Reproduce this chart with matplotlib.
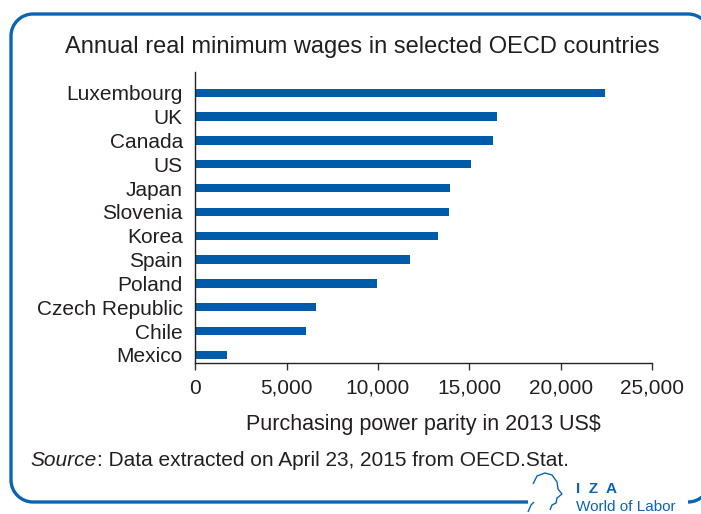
import matplotlib
matplotlib.use("Agg")
import matplotlib.pyplot as plt
from matplotlib.path import Path
from matplotlib.patches import PathPatch

countries = ["Luxembourg", "UK", "Canada", "US", "Japan", "Slovenia", "Korea",
             "Spain", "Poland", "Czech Republic", "Chile", "Mexico"]
wages = [22400, 16530, 16280, 15070, 13920, 13900, 13300, 11730, 9970, 6610, 6050, 1750]
xticks = [0, 5000, 10000, 15000, 20000, 25000]
xticklabels = ["0", "5,000", "10,000", "15,000", "20,000", "25,000"]

FONT = ["Liberation Sans", "DejaVu Sans"]
plt.rcParams['font.family'] = FONT
TXT = "#231f20"
BLUE = "#005ca9"
BORDER = "#0a64b4"

W, H = 701, 514
fig = plt.figure(figsize=(W / 100, H / 100), dpi=100)


def P(x, y):
    return (x / W, 1 - y / H)


# Rounded border drawn as paths in pixel coordinates (right side runs off canvas)
L, T, R, B, r = 11, 14, 710, 502, 22
k = 0.5523 * r
C = Path.CURVE4
verts = [P(528, B), P(L + r, B),
         P(L + r - k, B), P(L, B - r + k), P(L, B - r),
         P(L, T + r),
         P(L, T + r - k), P(L + r - k, T), P(L + r, T),
         P(R - r, T),
         P(R - r + k, T), P(R, T + r - k), P(R, T + r)]
codes = [Path.MOVETO, Path.LINETO, C, C, C, Path.LINETO, C, C, C,
         Path.LINETO, C, C, C]
fig.add_artist(PathPatch(Path(verts, codes), transform=fig.transFigure, fill=False,
                         edgecolor=BORDER, linewidth=2.4, capstyle="butt"))
verts2 = [P(R, B - r), P(R, B - r + k), P(R - r + k, B), P(R - r, B), P(688, B)]
codes2 = [Path.MOVETO, C, C, C, Path.LINETO]
fig.add_artist(PathPatch(Path(verts2, codes2), transform=fig.transFigure, fill=False,
                         edgecolor=BORDER, linewidth=2.4, capstyle="butt"))

ax = fig.add_axes([195.3 / W, 1 - 363.3 / H, (652 - 195.3) / W, (363.3 - 72) / H])
n = len(countries)
ypos = [n - 1 - i for i in range(n)]
ax.barh(ypos, wages, height=0.35, color=BLUE, edgecolor="none")
ax.set_xlim(0, 25000)
ax.set_ylim(-0.35, n - 1 + 0.87)
ax.set_yticks(ypos)
ax.set_yticklabels(countries, fontsize=15, color=TXT)
ax.set_xticks(xticks)
ax.set_xticklabels(xticklabels, fontsize=15, color=TXT)
ax.tick_params(axis="y", length=0, pad=9)
ax.tick_params(axis="x", direction="out", length=5, width=1, color="#333333", pad=6)
for s in ["top", "right"]:
    ax.spines[s].set_visible(False)
for s in ["left", "bottom"]:
    ax.spines[s].set_color("#222222")
    ax.spines[s].set_linewidth(1)
ax.set_xlabel("Purchasing power parity in 2013 US$", fontsize=15.5, color=TXT, labelpad=12)

fig.text(362 / W, 1 - 47 / H, "Annual real minimum wages in selected OECD countries",
         ha="center", va="center", fontsize=17, color=TXT)

# Source line
t1 = fig.text(30 / W, 1 - 460 / H, "Source", style="italic", ha="left", va="center",
              fontsize=15, color=TXT)
fig.canvas.draw()
bb = t1.get_window_extent(fig.canvas.get_renderer())
fig.text(bb.x1 / W + 1 / W, 1 - 460 / H, ": Data extracted on April 23, 2015 from OECD.Stat.",
         ha="left", va="center", fontsize=15, color=TXT)

# Logo
fig.text(576 / W, 1 - 489 / H, "I  Z  A", ha="left", va="center", fontsize=11,
         color=BORDER, fontweight="bold")
fig.text(576 / W, 1 - 507 / H, "World of Labor", ha="left", va="center", fontsize=11,
         color=BORDER)
head = [(533, 484), (537, 476), (545, 473), (552, 475), (557, 482), (558, 489),
        (562, 494), (557, 498), (556, 503), (552, 505), (550, 510)]
fig.add_artist(PathPatch(Path([P(x, y) for x, y in head]), transform=fig.transFigure,
                         fill=False, edgecolor=BORDER, linewidth=1.0))
fig.add_artist(PathPatch(Path([P(528, 512), P(531, 505), P(534, 502)]),
                         transform=fig.transFigure, fill=False, edgecolor=BORDER,
                         linewidth=1.0))

fig.savefig("out.png", dpi=100)
